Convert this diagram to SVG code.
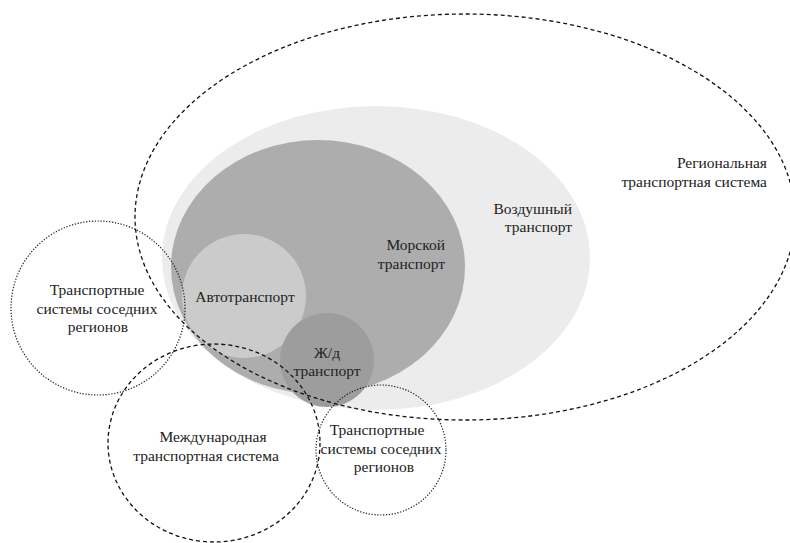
<svg xmlns="http://www.w3.org/2000/svg" width="790" height="543" viewBox="0 0 790 543">
<style>
text{font-family:'Liberation Serif','DejaVu Serif',serif;font-size:15.5px;fill:#222}
.m{text-anchor:middle}
.e{text-anchor:end}
.dash{fill:none;stroke:#111;stroke-width:1.3;stroke-dasharray:4 3}
.dot{fill:none;stroke:#222;stroke-width:1.2;stroke-dasharray:1.3 1.6}
</style>
<rect width="790" height="543" fill="#fff"/>
<g id="air">
<ellipse cx="376" cy="258" rx="214" ry="152" fill="#ececec"/>
<text class="e" x="572" y="214" font-family="Liberation Serif, serif">Воздушный</text>
<text class="e" x="572" y="232" font-family="Liberation Serif, serif">транспорт</text>
</g>
<g id="sea">
<ellipse cx="318" cy="267" rx="147" ry="127" fill="#adadad"/>
<text class="e" x="445" y="250">Морской</text>
<text class="e" x="445" y="269">транспорт</text>
</g>
<g id="auto">
<circle cx="244" cy="296" r="62" fill="#cbcbcb"/>
<text class="m" x="245" y="302">Автотранспорт</text>
</g>
<g id="rail">
<circle cx="327" cy="360" r="47" fill="#9d9d9d"/>
<text class="m" x="327" y="358">Ж/д</text>
<text class="m" x="327" y="376">транспорт</text>
</g>
<g id="regional">
<ellipse class="dash" cx="465" cy="217" rx="330" ry="203"/>
<text class="e" x="767" y="168">Региональная</text>
<text class="e" x="767" y="187">транспортная система</text>
</g>
<g id="neighbors-left">
<circle class="dot" cx="98" cy="308" r="87"/>
<text class="m" x="97" y="295">Транспортные</text>
<text class="m" x="97" y="314">системы соседних</text>
<text class="m" x="98" y="332">регионов</text>
</g>
<g id="international">
<ellipse class="dash" cx="214" cy="443" rx="106" ry="99"/>
<text class="m" x="213" y="442">Международная</text>
<text class="m" x="206" y="461">транспортная система</text>
</g>
<g id="neighbors-bottom">
<circle class="dot" cx="381" cy="450" r="65"/>
<text class="m" x="377" y="435">Транспортные</text>
<text class="m" x="381" y="454">системы соседних</text>
<text class="m" x="384" y="472">регионов</text>
</g>
</svg>
